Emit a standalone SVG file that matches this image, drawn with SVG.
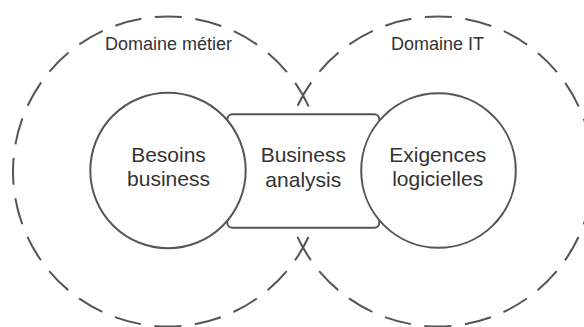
<svg xmlns="http://www.w3.org/2000/svg" width="584" height="327" viewBox="0 0 584 327">
  <style>
    .domain { fill: none; stroke: #555555; stroke-width: 2; stroke-dasharray: 27 13.58; stroke-dashoffset: 13.5; }
    .node { fill: #ffffff; stroke: #555555; stroke-width: 2; }
    .lbl { font-family: "Liberation Sans", Arial, sans-serif; fill: #333333; text-anchor: middle; }
    .big { font-size: 21px; }
    .small { font-size: 18px; }
  </style>
  <rect width="584" height="327" fill="#ffffff"/>
  <g id="domaine-metier">
    <circle class="domain" cx="168" cy="171.5" r="155"/>
    <text class="lbl small" x="168.5" y="50">Domaine métier</text>
  </g>
  <g id="domaine-it">
    <circle class="domain" cx="438" cy="171.5" r="155"/>
    <text class="lbl small" x="437.5" y="50">Domaine IT</text>
  </g>
  <g id="connectors"></g>
  <g id="business-analysis">
    <rect class="node" x="227.3" y="114.3" width="152" height="113.4" rx="5"/>
    <text class="lbl big" x="303.3" y="161.7">Business</text>
    <text class="lbl big" x="303.3" y="186.5">analysis</text>
  </g>
  <g id="besoins-business">
    <circle class="node" cx="168" cy="170.5" r="77.7"/>
    <text class="lbl big" x="168.5" y="162">Besoins</text>
    <text class="lbl big" x="168.5" y="186">business</text>
  </g>
  <g id="exigences-logicielles">
    <circle class="node" cx="438.5" cy="170.5" r="77.3"/>
    <text class="lbl big" x="437.7" y="161.7">Exigences</text>
    <text class="lbl big" x="437.7" y="186">logicielles</text>
  </g>
</svg>
